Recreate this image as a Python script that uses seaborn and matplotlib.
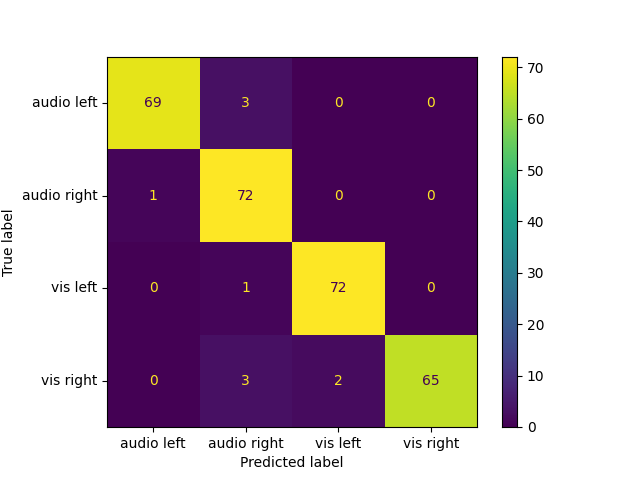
import numpy as np
import matplotlib
matplotlib.use("Agg")
import matplotlib.pyplot as plt
import seaborn as sns

labels = ["audio left", "audio right", "vis left", "vis right"]
cm = np.array([
    [69, 3, 0, 0],
    [1, 72, 0, 0],
    [0, 1, 72, 0],
    [0, 3, 2, 65],
])

fig = plt.figure(figsize=(6.4, 4.8), dpi=100)
ax = fig.add_axes([107 / 640, 53 / 480, 370 / 640, 370 / 480])
cax = fig.add_axes([502 / 640, 53 / 480, 15 / 640, 370 / 480])

cmap = plt.get_cmap("viridis")
sns.heatmap(cm, ax=ax, cbar_ax=cax, cmap=cmap, annot=False,
            xticklabels=labels, yticklabels=labels)

thresh = (cm.max() + cm.min()) / 2.0
for i in range(cm.shape[0]):
    for j in range(cm.shape[1]):
        color = cmap(0) if cm[i, j] > thresh else cmap(1.0)
        ax.text(j + 0.5, i + 0.5, str(cm[i, j]), ha="center", va="center",
                color=color, fontsize=10)

for s in ax.spines.values():
    s.set_visible(True)
ax.tick_params(axis="both", length=3.5)
ax.set_yticklabels(labels, rotation=0)
ax.set_xticklabels(labels, rotation=0)
ax.set_xlabel("Predicted label")
ax.set_ylabel("True label")

cax.set_yticks(range(0, 71, 10))
for s in cax.spines.values():
    s.set_visible(True)

fig.savefig("out.png", dpi=100)
